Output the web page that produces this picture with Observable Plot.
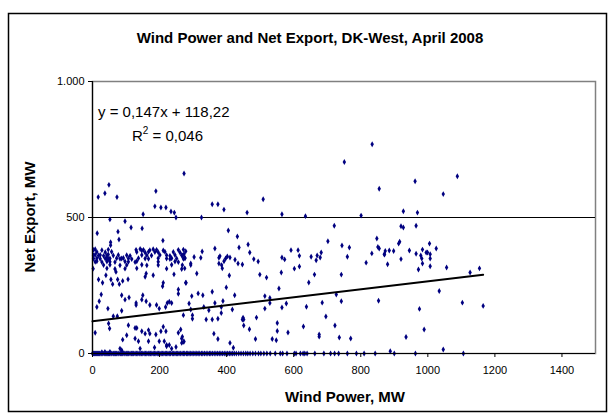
<!DOCTYPE html>
<html><head><meta charset="utf-8">
<script src="https://cdn.jsdelivr.net/npm/d3@7"></script>
<script src="https://cdn.jsdelivr.net/npm/@observablehq/plot@0.6"></script>
<style>body{margin:0;background:#fff} svg{display:block}</style>
</head><body><div id="chart"></div>
<script>
// ---- data (Wind power MW, Net export MW) ----
const title = "Wind Power and Net Export, DK-West, April 2008";
const xTitle = "Wind Power, MW";
const yTitle = "Net Export, MW";
const xTicks = [0,200,400,600,800,1000,1200,1400];
const yTicks = [0,500,1000];
const yTickLabels = ["0","500","1.000"];
const trendSlope = 0.147, trendIntercept = 118.22;
const eqText = "y = 0,147x + 118,22";
const r2Text = "0,046";

const aboveGrid = [[273,662],[49,620],[37,589],[17,575],[73,575],[189,597],[186,541],[204,537],[219,537],[234,522],[244,518],[249,500],[151,512],[357,549],[374,549],[392,529],[461,518],[509,567],[325,500],[751,704],[834,769],[855,606],[565,512],[635,505],[801,507],[962,633],[1088,652],[1046,586],[927,523],[969,518],[52,493],[97,486]];

const band = [[14,442],[76,448],[115,463],[148,460],[79,419],[54,409],[210,415],[54,398],
[3,381],[8,383],[28,380],[47,382],[130,381],[142,384],[147,379],[152,381],[171,380],[181,383],[191,381],[211,379],[256,381],[271,382],
[13,373],[38,372],[57,374],[132,373],[157,371],[167,374],[186,373],[196,372],[216,374],[241,373],[261,371],
[3,361],[8,363],[18,360],[23,362],[33,359],[43,361],[47,364],[62,360],[77,362],[102,361],[112,359],[147,362],[162,361],[176,360],[201,362],[221,361],[231,359],[246,362],[266,361],
[3,349],[13,350],[23,348],[38,349],[43,351],[47,347],[52,349],[72,350],[82,348],[87,349],[92,351],[107,349],[117,347],[137,350],[157,349],[167,348],[196,350],[221,349],[231,347],[236,350],[251,349],[271,348],[276,350],
[8,337],[13,339],[28,336],[43,338],[52,337],[67,336],[97,338],[107,337],[127,336],[132,339],[196,337],[246,338],[256,336],
[33,325],[52,326],[82,324],[102,325],[147,326],[162,324],[196,325],[236,326],
[2,312],[43,313],[67,311],[97,312],[132,313],[221,312],[266,311],[70,300],
[405,452],[432,430],[437,390],[464,401],[469,371],[481,347],[494,338],[447,327],[434,331],[425,345],[410,353],[402,357],[397,349],[392,339],[380,358],[377,352],[377,331],[385,325],[387,313],[365,386],[327,375],[323,352],[303,355],[293,331],[293,325],[278,376],[273,366],[268,360],[275,352],[275,313],[268,325],
[702,413],[848,423],[744,397],[766,390],[851,392],[855,386],[833,368],[871,364],[592,380],[613,380],[565,353],[573,346],[617,359],[652,356],[670,360],[682,371],[679,353],[667,343],[760,356],[602,312],[617,320],[816,334],[721,470],
[920,468],[927,463],[965,470],[913,404],[916,411],[1005,404],[1025,386],[945,379],[984,382],[995,371],[999,371],[1007,365],[965,367],[979,360],[982,349],[1007,349],[984,331],[1007,321],[972,309],[1056,316],[1154,313],[920,347],[898,377],[885,379],[873,377],[870,365],[880,328]];

const middle = [[18,272],[30,260],[40,288],[55,272],[60,255],[75,272],[80,255],[90,267],[106,273],[160,294],[157,282],[181,288],[211,260],[209,247],[243,291],[256,235],[256,220],[279,260],[26,217],[20,192],[87,214],[97,198],[109,206],[130,186],[130,178],[150,214],[147,198],[160,192],[171,178],[191,178],[223,186],[229,190],[236,186],[218,171],[199,165],[46,165],[48,110],[51,92],[62,137],[74,137],[87,157],[107,104],[102,67],[90,51],[82,18],[87,12],[127,94],[132,94],[127,55],[137,45],[142,18],[147,82],[157,73],[167,86],[167,45],[171,73],[185,22],[189,70],[199,45],[204,82],[211,98],[214,45],[219,82],[221,31],[229,31],[236,18],[249,24],[256,76],[271,43],[266,55],[8,76],[13,171],
[311,294],[278,260],[315,221],[329,214],[357,227],[296,211],[288,184],[293,162],[298,141],[298,128],[332,171],[347,159],[365,186],[389,193],[384,171],[384,149],[374,128],[357,125],[339,125],[271,141],[417,162],[424,214],[399,243],[408,287],[499,290],[519,279],[556,239],[514,211],[529,204],[529,186],[514,165],[449,132],[451,125],[447,125],[451,103],[489,132],[468,89],[551,112],[551,83],[486,53],[536,53],[548,49],[362,73],[374,53],[410,39],[420,21],[263,88],[268,62],[273,44],[266,39],
[563,298],[662,290],[742,290],[645,261],[727,217],[578,184],[565,169],[638,172],[685,187],[742,192],[853,194],[696,136],[723,103],[629,99],[583,77],[676,70],[676,62],[736,59],[770,55],
[1126,298],[1034,230],[1103,187],[1165,175],[975,164],[989,88],[935,61],[1046,15],[888,8],
[37,6],[28,5],[52,6],[89,6],[221,27]];

const zeroWind = [0,3,6,9,12,15,18,21,25,28,31,35,38,41,44,48,51,55,58,62,65,69,72,76,79,83,86,90,94,97,101,105,108,112,116,120,123,127,131,135,139,142,146,150,154,158,162,166,169,173,177,181,185,189,193,197,201,205,209,213,217,221,225,229,233,238,242,246,250,254,258,262,267,271,275,280,284,288,293,297,302,306,311,315,320,325,329,334,339,344,349,353,358,363,368,373,378,383,388,393,398,403,408,413,418,423,429,436,443,450,457,463,470,478,486,495,502,511,520,530,545,560,567,580,602,607,620,628,633,640,663,690,710,722,734,760,787,810,843,900,963,1106];

// ---- build ----
const dots = [...aboveGrid, ...band, ...middle].map(([w,n]) => ({w, n}))
  .concat(zeroWind.map(w => ({w, n: 0})));
const ext = d3.extent(dots, d => d.w);
const trend = ext.map(x => ({w: x, n: trendSlope * x + trendIntercept}));

const W = 615, H = 420;
const font = "'Liberation Sans', Arial, Helvetica, sans-serif";
const plot = Plot.plot({
  width: W, height: H,
  marginLeft: 92, marginRight: 20, marginTop: 81, marginBottom: 67,
  style: {fontFamily: font, fontSize: "11px", color: "#000", background: "#fff", overflow: "visible"},
  x: {domain: [0, 1500]},
  y: {domain: [0, 1000]},
  marks: [
    Plot.frame({stroke: "#808080", strokeWidth: 1.5}),
    Plot.ruleY([500], {stroke: "#000", strokeWidth: 1}),
    Plot.dot(dots, {x: "w", y: "n", symbol: "diamond", r: 1.8, fill: "#000080", stroke: "none"}),
    Plot.line(trend, {x: "w", y: "n", stroke: "#000", strokeWidth: 2}),
    Plot.ruleX([0], {stroke: "#000", strokeWidth: 1.2}),
    Plot.ruleY([0], {stroke: "#000", strokeWidth: 1.2}),
    Plot.axisX({ticks: xTicks, tickSize: 4, tickPadding: 9, label: null, tickFormat: d => String(d)}),
    Plot.axisY({ticks: yTicks, tickSize: 4, tickPadding: 4, label: null, tickFormat: d => yTickLabels[yTicks.indexOf(d)]})
  ]
});
document.getElementById("chart").appendChild(plot);

const svg = d3.select(plot);
svg.insert("rect", ":first-child")
  .attr("x", 8.5).attr("y", 13.5).attr("width", 598).attr("height", 398)
  .attr("fill", "#fff").attr("stroke", "#000").attr("stroke-width", 1.5);
svg.append("text").text(title)
  .attr("x", 310).attr("y", 43).attr("text-anchor", "middle")
  .attr("font-family", font).attr("font-size", 15).attr("font-weight", "bold");
svg.append("text").text(xTitle)
  .attr("x", 345).attr("y", 402).attr("text-anchor", "middle")
  .attr("font-family", font).attr("font-size", 15).attr("font-weight", "bold");
svg.append("text").text(yTitle)
  .attr("transform", "translate(35,217) rotate(-90)").attr("text-anchor", "middle")
  .attr("font-family", font).attr("font-size", 15).attr("font-weight", "bold");
svg.append("text").text(eqText)
  .attr("x", 98).attr("y", 117).attr("text-anchor", "start")
  .attr("font-family", font).attr("font-size", 15);
const r2 = svg.append("text").attr("x", 132).attr("y", 141).attr("text-anchor", "start")
  .attr("font-family", font).attr("font-size", 15);
r2.append("tspan").text("R");
r2.append("tspan").text("2").attr("dy", -7).attr("font-size", 10);
r2.append("tspan").text(" = " + r2Text).attr("dy", 7);
</script></body></html>
